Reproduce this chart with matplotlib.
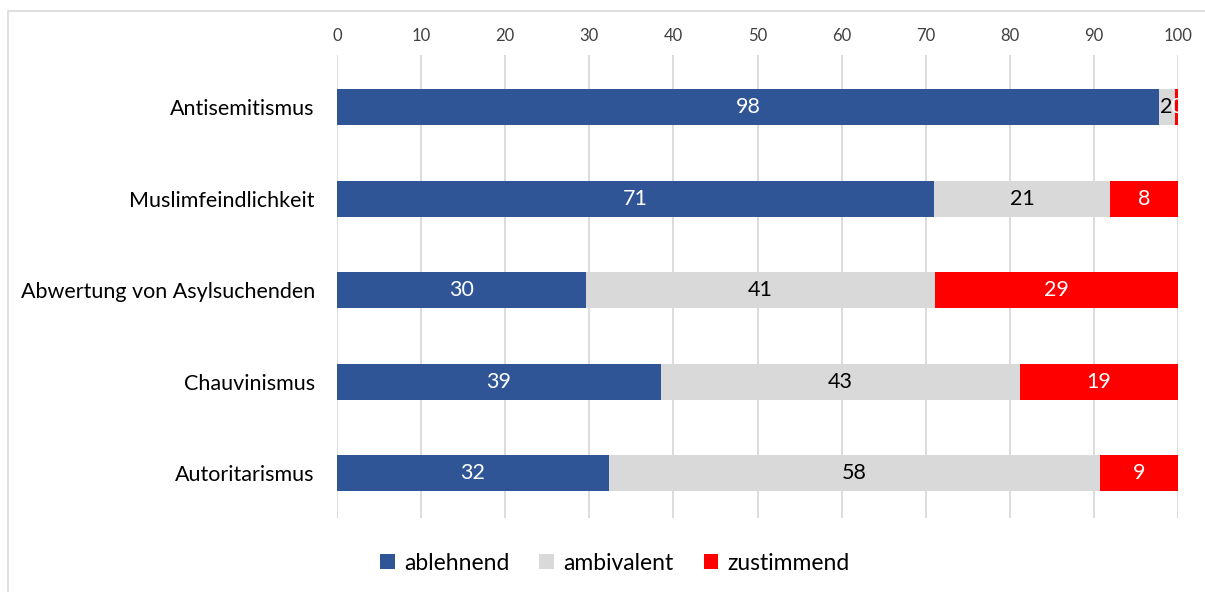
import matplotlib.pyplot as plt
from matplotlib.patches import Rectangle

categories = ['Antisemitismus', 'Muslimfeindlichkeit', 'Abwertung von Asylsuchenden',
              'Chauvinismus', 'Autoritarismus']
ablehnend = [97.7, 71.0, 29.6, 38.5, 32.3]
ambivalent = [1.9, 20.9, 41.5, 42.7, 58.4]
zustimmend = [0.4, 8.1, 28.9, 18.8, 9.3]
lab_ablehnend = ['98', '71', '30', '39', '32']
lab_ambivalent = ['2', '21', '41', '43', '58']
lab_zustimmend = ['0', '8', '29', '19', '9']
ticks = [0, 10, 20, 30, 40, 50, 60, 70, 80, 90, 100]

plt.rcParams['font.family'] = ['Lato', 'DejaVu Sans']

fig = plt.figure(figsize=(12.05, 5.92), dpi=100)
fig.patches.append(Rectangle((8 / 1205, -0.1), 1.2, 1 - 11 / 592 + 0.1,
                             transform=fig.transFigure, fill=False,
                             edgecolor='#d9d9d9', linewidth=1.2))
ax = fig.add_axes([337 / 1205, 1 - 518 / 592, 841 / 1205, 463 / 592])

y = list(range(len(categories)))
series = [(ablehnend, lab_ablehnend, '#2f5597', 'white', 'ablehnend'),
          (ambivalent, lab_ambivalent, '#d9d9d9', 'black', 'ambivalent'),
          (zustimmend, lab_zustimmend, '#ff0000', 'white', 'zustimmend')]
left = [0] * len(categories)
for vals, labs, col, tcol, name in series:
    bars = ax.barh(y, vals, left=left, height=0.39, color=col, label=name, zorder=3)
    for b, lab in zip(bars, labs):
        t = ax.text(b.get_x() + b.get_width() / 2, b.get_y() + b.get_height() / 2, lab,
                    ha='center', va='center', color=tcol, fontsize=15.5, zorder=4)
        # tiny segments: show only the part of the label inside the bar
        if b.get_width() < 2:
            t.set_clip_path(b)
    left = [l + v for l, v in zip(left, vals)]

ax.set_xlim(0, 100)
ax.set_ylim(4.49, -0.57)
ax.set_xticks(ticks)
ax.xaxis.tick_top()
ax.tick_params(axis='x', length=0, labelsize=12, pad=8, labelcolor='#404040')
ax.set_yticks(y)
ax.set_yticklabels(categories, fontsize=15.5)
ax.tick_params(axis='y', length=0, pad=16)
ax.grid(axis='x', color='#d9d9d9', linewidth=1.3, zorder=0)
for s in ax.spines.values():
    s.set_visible(False)

fig.legend(loc='center', bbox_to_anchor=(615 / 1205, 1 - 563 / 592), ncol=3, frameon=False,
           fontsize=16.5, handlelength=0.65, handleheight=0.65, handletextpad=0.4,
           columnspacing=1.3)

fig.savefig('out.png', dpi=100)
